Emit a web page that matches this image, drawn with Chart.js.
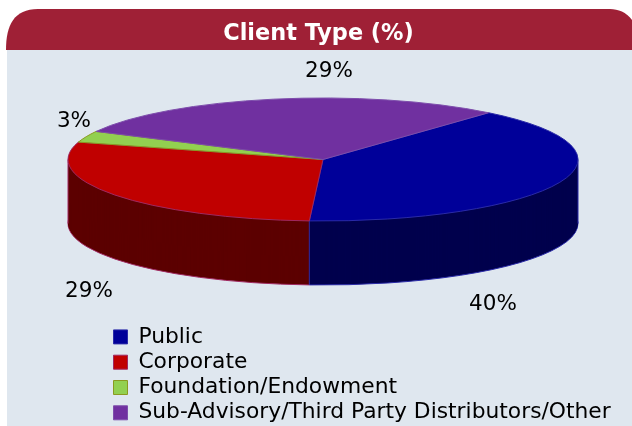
<!DOCTYPE html>
<html>
<head>
<meta charset="utf-8">
<style>html,body{margin:0;padding:0;background:#fff}#wrap{width:632px;height:426px;position:relative}</style>
<script src="https://cdn.jsdelivr.net/npm/chart.js@4"></script>
</head>
<body>
<div id="wrap"><canvas id="c" width="632" height="426"></canvas></div>
<script>
const titleText = 'Client Type (%)';
const categories = ['Public', 'Corporate', 'Foundation/Endowment', 'Sub-Advisory/Third Party Distributors/Other'];
const values = [40, 29, 3, 29];
const faceColors = ['#000099', '#C00000', '#92D050', '#7030A0'];
const wallColors = ['#00004D', '#5C0000', '#4A6A28', '#381850'];
const edgeColors = ['#2A2AA8', '#A02860', '#8A9A20', '#7E4EAC'];
const pctLabels = ['40%', '29%', '3%', '29%'];
const pctLabelAnchors = [[493, 304], [89, 291], [74, 121], [329, 71]];
const pie = {cx: 323, cy: 159.5, rx: 255, ry: 61.5, depth: 64};
const legendBox = {left: 110, top: 322.5};

function ellipseTransform(ctx, arc, dy) {
  const R = arc.outerRadius;
  ctx.translate(pie.cx, pie.cy + dy);
  ctx.scale(pie.rx / R, pie.ry / R);
  ctx.translate(-arc.x, -arc.y);
}

const pie3d = {
  id: 'pie3d',
  beforeDraw(chart) {
    const ctx = chart.ctx;
    ctx.save();
    ctx.fillStyle = '#DFE7EF';
    ctx.fillRect(7, 50, 632, 380);
    ctx.fillStyle = '#9F2036';
    ctx.beginPath();
    ctx.moveTo(6, 50);
    ctx.bezierCurveTo(6, 25, 14, 9, 38, 9);
    ctx.lineTo(610, 9);
    ctx.bezierCurveTo(625, 9, 640, 20, 640, 50);
    ctx.closePath();
    ctx.fill();
    ctx.restore();
  },
  afterLayout(chart) {
    const lg = chart.legend;
    lg.left = legendBox.left; lg.right = chart.width;
    lg.top = legendBox.top; lg.bottom = chart.height + 60;
    lg.adjustHitBoxes();
    const t = chart.titleBlock;
    t.left += 2.5; t.right += 2.5;
  },
  beforeDatasetsDraw(chart) {
    const ctx = chart.ctx;
    const arcs = chart.getDatasetMeta(0).data;
    const nativeStroke = CanvasRenderingContext2D.prototype.stroke;
    ctx.stroke = function () {
      this.save();
      this.setTransform(1, 0, 0, 1, 0, 0);
      nativeStroke.call(this);
      this.restore();
    };
    for (let d = pie.depth; d >= 1; d--) {
      ctx.save();
      ellipseTransform(ctx, arcs[0], d);
      arcs.forEach((arc, i) => {
        const orig = arc.options;
        const o = Object.create(orig);
        o.backgroundColor = wallColors[i];
        o.borderWidth = d === pie.depth ? 1 : 0;
        arc.options = o;
        arc.draw(ctx);
        arc.options = orig;
      });
      ctx.restore();
    }
    // vertical wall edges: front slice boundaries and the two silhouette ends
    ctx.save();
    ctx.lineWidth = 1;
    const vline = (x, y, c) => {
      ctx.strokeStyle = c;
      ctx.beginPath();
      ctx.moveTo(x, y);
      ctx.lineTo(x, y + pie.depth);
      nativeStroke.call(ctx);
    };
    arcs.forEach((arc, i) => {
      const s = Math.sin(arc.endAngle), c = Math.cos(arc.endAngle);
      if (s > 0) vline(pie.cx + pie.rx * c, pie.cy + pie.ry * s, edgeColors[i]);
    });
    vline(pie.cx + pie.rx, pie.cy, edgeColors[0]);
    vline(pie.cx - pie.rx, pie.cy, edgeColors[1]);
    ctx.restore();
    ctx.save();
    ellipseTransform(ctx, arcs[0], 0);
  },
  afterDatasetsDraw(chart) {
    const ctx = chart.ctx;
    ctx.restore();
    delete ctx.stroke;
    ctx.save();
    ctx.fillStyle = '#000';
    ctx.font = '21.5px "DejaVu Sans"';
    ctx.textAlign = 'center';
    ctx.textBaseline = 'middle';
    pctLabels.forEach((t, i) => ctx.fillText(t, pctLabelAnchors[i][0], pctLabelAnchors[i][1]));
    ctx.restore();
  }
};

new Chart(document.getElementById('c'), {
  type: 'pie',
  data: {
    labels: categories,
    datasets: [{
      data: values,
      backgroundColor: faceColors,
      borderColor: edgeColors,
      borderWidth: 1,
      clip: false
    }]
  },
  options: {
    responsive: false,
    animation: false,
    rotation: 40.5,
    events: [],
    layout: {padding: 0},
    plugins: {
      tooltip: {enabled: false},
      title: {
        display: true,
        text: titleText,
        color: '#FFFFFF',
        font: {family: '"DejaVu Sans"', size: 22.4, weight: 'bold'},
        padding: {top: 21, bottom: 6}
      },
      legend: {
        position: 'left',
        align: 'start',
        labels: {
          boxWidth: 14,
          boxHeight: 14,
          padding: 3.5,
          color: '#000',
          font: {family: '"DejaVu Sans"', size: 21.8}
        }
      }
    }
  },
  plugins: [pie3d]
});
</script>
</body>
</html>
